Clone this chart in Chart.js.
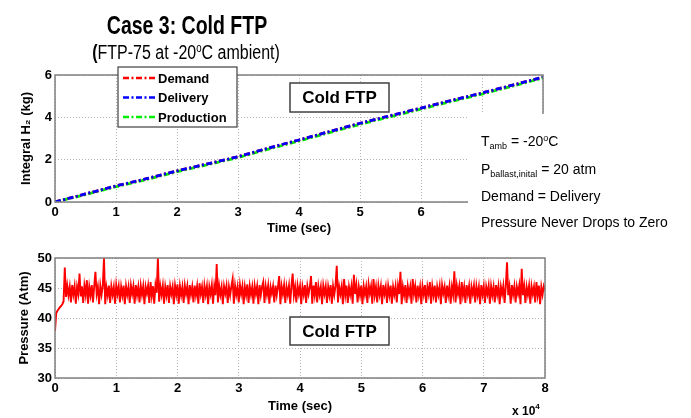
<!DOCTYPE html>
<html><head><meta charset="utf-8">
<script src="https://cdn.jsdelivr.net/npm/chart.js@4.4.1/dist/chart.umd.min.js"></script>
<style>
html,body{margin:0;padding:0;background:#fff;width:691px;height:418px;overflow:hidden;font-family:'Liberation Sans',Arial,sans-serif;color:#000;}
canvas{position:absolute;left:0;}
#c1{top:0;}
#c2{top:240px;}
.txt{position:absolute;white-space:nowrap;line-height:1;}
.title{font-weight:bold;font-size:25px;left:187px;top:13px;transform:translateX(-50%) scaleX(0.78);}
.sub{font-size:20px;left:186px;top:42px;transform:translateX(-50%) scaleX(0.8);}
.sub sup{font-size:12px;vertical-align:7px;}
.note{font-size:14px;left:481px;}
.note sub{font-size:9px;vertical-align:-3px;}
.note sup{font-size:9px;vertical-align:5px;}
.x10{font-size:12px;font-weight:bold;left:512px;top:403px;}
.x10 sup{font-size:8px;vertical-align:6px;}
</style></head>
<body>
<canvas id="c1" width="691" height="240"></canvas>
<canvas id="c2" width="691" height="178"></canvas>
<div class="txt title">Case 3: Cold FTP</div>
<div class="txt sub"><b>(</b>FTP-75 at -20<sup>o</sup>C ambient)</div>
<div class="txt note" style="top:134px">T<sub>amb</sub> = -20<sup>o</sup>C</div>
<div class="txt note" style="top:162px">P<sub>ballast,inital</sub> = 20 atm</div>
<div class="txt note" style="top:189px">Demand = Delivery</div>
<div class="txt note" style="top:215px">Pressure Never Drops to Zero</div>
<div class="txt x10">x 10<sup>4</sup></div>
<script>
// ---- data (time in units of 10^4 sec) ----
const timeTickLabels = ['0','1','2','3','4','5','6','7','8'];
const integralTime = [0,0.5,1,1.5,2,2.5,3,3.5,4,4.5,5,5.5,6,6.5,7,7.5,8];
const demandKg     = [0,0.38,0.76,1.1,1.47,1.8,2.14,2.55,2.93,3.33,3.72,4.08,4.44,4.8,5.15,5.52,5.9];
const deliveryKg   = [0,0.38,0.76,1.1,1.47,1.8,2.14,2.55,2.93,3.33,3.72,4.08,4.44,4.8,5.15,5.52,5.9];
const productionKg = [0,0.35,0.72,1.06,1.43,1.76,2.1,2.5,2.88,3.28,3.67,4.03,4.39,4.75,5.1,5.47,5.86];
const h2Ticks = ['0','2','4','6'];
const pressureTicks = ['30','35','40','45','50'];
const pressureEnd = 8; // last sample time, 10^4 sec (samples evenly spaced from 0)
const pressureAtm = [
37.8,40.8,41.2,41.5,41.8,42.0,42.3,42.8,48.4,43.5,45.4,43.8,45.2,42.6,45.5,43.9,45.3,42.4,45.2,44.0,
47.4,43.6,45.3,42.5,45.4,43.9,46.3,42.4,45.2,43.8,45.5,42.6,45.3,47.7,44.0,45.2,42.3,45.4,43.9,45.3,
50.0,42.3,45.1,43.8,45.4,42.5,45.3,43.9,45.2,42.4,45.5,44.0,45.3,42.6,45.2,43.8,45.4,42.3,45.3,43.9,
45.2,42.5,45.4,44.0,45.3,42.4,45.5,43.8,45.2,42.6,45.4,43.9,45.3,42.3,45.2,44.1,45.4,42.5,46.0,43.7,
45.3,42.4,45.5,44.2,50.0,42.7,45.3,43.9,45.4,42.4,45.2,43.8,45.5,42.5,45.3,44.0,45.2,42.3,45.4,43.9,
45.6,42.4,45.3,43.8,45.2,42.5,45.4,44.0,45.3,42.3,45.5,43.9,45.2,42.6,45.4,43.8,45.3,42.4,45.8,44.0,
45.2,42.5,45.4,43.9,45.3,42.3,45.2,44.0,45.5,42.4,45.3,43.8,49.0,42.6,45.4,43.9,45.2,42.3,45.3,44.1,
45.4,42.5,45.2,43.8,45.3,46.5,42.4,45.4,43.9,45.2,42.6,45.5,44.0,45.3,42.3,45.2,43.8,45.6,42.5,45.3,
43.9,45.2,42.4,45.4,44.0,45.3,42.3,45.5,43.8,45.2,46.0,42.5,45.3,43.9,45.4,42.4,45.2,44.1,45.3,42.6,
45.4,43.8,45.2,47.0,42.3,45.3,44.0,45.5,42.5,45.2,43.9,45.4,42.4,45.3,47.4,43.8,45.2,42.6,45.4,44.0,
45.3,42.3,45.2,43.9,45.5,42.5,45.3,44.0,45.2,47.0,42.4,45.4,43.8,46.0,42.6,45.3,43.9,45.2,42.3,45.4,
44.0,45.3,42.5,45.2,43.8,45.5,42.4,45.3,43.9,45.4,48.7,42.6,45.2,44.0,45.3,42.3,46.5,43.8,45.4,42.5,
45.2,43.9,45.3,42.4,47.2,44.0,45.5,42.6,45.2,43.8,45.4,42.3,45.3,43.9,45.2,42.5,45.6,44.1,45.3,42.4,
46.5,43.8,45.2,42.6,45.4,43.9,45.3,42.3,45.5,44.0,45.2,42.5,45.3,43.8,45.4,42.4,45.2,43.9,45.3,42.6,
45.4,44.0,47.7,42.3,45.2,43.8,45.5,42.5,45.3,43.9,45.2,42.4,46.5,44.0,45.3,42.6,45.4,43.8,45.2,42.3,
45.3,43.9,45.5,42.5,45.2,44.0,46.0,42.4,45.3,43.8,45.4,42.6,45.2,43.9,45.3,42.3,45.5,44.1,45.2,42.5,
45.4,43.8,45.3,42.4,45.2,43.9,47.8,42.6,45.4,44.0,45.3,42.3,46.0,43.8,45.2,42.5,45.5,43.9,45.3,42.4,
45.2,44.0,45.4,42.6,45.3,43.8,45.2,42.3,45.5,43.9,45.3,42.5,45.2,44.0,45.4,42.4,45.3,43.8,45.2,42.6,
45.5,43.9,45.3,42.3,45.2,44.0,45.4,42.5,45.3,49.3,43.8,45.2,42.4,45.5,43.9,45.3,42.6,45.2,44.0,45.4,
42.3,48.2,43.8,45.3,42.5,45.2,43.9,45.4,42.4,45.3,44.0,45.2,42.6,46.0,43.8,45.4,42.3,45.2,43.9,45.3,
44.6];

const FONT = "'Liberation Sans', Arial, sans-serif";
const tickFont = {family: FONT, size: 13, weight: 'bold'};
const titleFont = {family: FONT, size: 13, weight: 'bold'};
const gridOpts = {color: '#b4b4b4', lineWidth: 1, drawTicks: false};
const borderOpts = {display: false, dash: [1, 2]};

function pts(xs, ys) { return xs.map((x, i) => ({x: x, y: ys[i]})); }

function drawFrame(chart) {
  const {ctx, chartArea: a} = chart;
  ctx.save();
  ctx.strokeStyle = '#808080';
  ctx.lineWidth = 1.5;
  ctx.setLineDash([]);
  ctx.strokeRect(a.left, a.top, a.right - a.left, a.bottom - a.top);
  ctx.restore();
}
function drawLabelBox(ctx, x, y, w, h, text) {
  ctx.save();
  ctx.fillStyle = '#fff';
  ctx.fillRect(x, y, w, h);
  ctx.strokeStyle = '#404040';
  ctx.lineWidth = 1.5;
  ctx.setLineDash([]);
  ctx.strokeRect(x, y, w, h);
  ctx.fillStyle = '#000';
  ctx.font = 'bold 17px ' + FONT;
  ctx.textAlign = 'center';
  ctx.textBaseline = 'middle';
  ctx.fillText(text, x + w / 2, y + h / 2 + 1);
  ctx.restore();
}

const topOverlay = {
  id: 'topOverlay',
  afterDraw(chart) {
    const ctx = chart.ctx;
    drawFrame(chart);
    // white annotation area covering the lower right of the plot
    ctx.save();
    ctx.fillStyle = '#fff';
    ctx.fillRect(468, 114, 691 - 468, 240 - 114);
    ctx.restore();
    drawLabelBox(ctx, 290, 83, 99, 29, 'Cold FTP');
    // legend
    const lx = 118, ly = 67, lw = 119, lh = 60;
    ctx.save();
    ctx.fillStyle = '#fff';
    ctx.fillRect(lx, ly, lw, lh);
    ctx.strokeStyle = '#404040';
    ctx.lineWidth = 1.2;
    ctx.strokeRect(lx, ly, lw, lh);
    [0, 1, 2].forEach((di, row) => {
      const ds = chart.data.datasets[di];
      const y = ly + 11 + row * 19.5;
      ctx.strokeStyle = ds.borderColor;
      ctx.lineWidth = 2.5;
      ctx.setLineDash([6, 2.5, 2, 2.5]);
      ctx.beginPath();
      ctx.moveTo(lx + 5, y);
      ctx.lineTo(lx + 38, y);
      ctx.stroke();
      ctx.setLineDash([]);
      ctx.fillStyle = '#000';
      ctx.font = 'bold 13px ' + FONT;
      ctx.textAlign = 'left';
      ctx.textBaseline = 'middle';
      ctx.fillText(ds.label, lx + 40, y + 1);
    });
    ctx.restore();
  }
};
const bottomOverlay = {
  id: 'bottomOverlay',
  afterDraw(chart) {
    drawFrame(chart);
    drawLabelBox(chart.ctx, 290, 77, 99, 28, 'Cold FTP');
  }
};

new Chart(document.getElementById('c1'), {
  type: 'line',
  data: {
    datasets: [
      {label: 'Demand', data: pts(integralTime, demandKg), borderColor: '#ff0000', borderWidth: 2.8,
       borderDash: [6, 2.5, 2, 2.5], pointRadius: 0, order: 1},
      {label: 'Delivery', data: pts(integralTime, deliveryKg), borderColor: '#0000ff', borderWidth: 2.8,
       borderDash: [6, 2.5, 2, 2.5], pointRadius: 0, order: 0},
      {label: 'Production', data: pts(integralTime, productionKg), borderColor: '#00ee00', borderWidth: 2.8,
       borderDash: [6, 2.5, 2, 2.5], borderDashOffset: 5, pointRadius: 0, order: 2}
    ]
  },
  options: {
    responsive: false, animation: false, devicePixelRatio: 1,
    layout: {padding: {left: 0, top: 75, right: 148, bottom: 0}},
    plugins: {legend: {display: false}, tooltip: {enabled: false}},
    scales: {
      x: {type: 'linear', min: 0, max: 8,
        ticks: {stepSize: 1, autoSkip: false, maxRotation: 0, color: '#000', font: tickFont, padding: 3,
          callback: (v) => timeTickLabels[Math.round(v)]},
        grid: gridOpts, border: borderOpts,
        title: {display: true, text: 'Time (sec)', color: '#000', font: titleFont, padding: {top: 0, bottom: 4}},
        afterFit(s) { s.height = 38; }},
      y: {min: 0, max: 6,
        ticks: {stepSize: 2, color: '#000', font: tickFont, padding: 3,
          callback: (v) => h2Ticks[Math.round(v / 2)]},
        grid: gridOpts, border: borderOpts,
        title: {display: true, text: 'Integral H\u2082 (kg)', color: '#000', font: titleFont, padding: {top: 19, bottom: 0}},
        afterFit(s) { s.width = 55; }}
    }
  },
  plugins: [topOverlay]
});

const pressureStep = pressureEnd / (pressureAtm.length - 1);
const pressurePts = pressureAtm.map((p, i) => ({x: i * pressureStep, y: p}));
new Chart(document.getElementById('c2'), {
  type: 'line',
  data: {
    datasets: [
      {label: 'Pressure', data: pressurePts, borderColor: '#ff0000', borderWidth: 1.9, pointRadius: 0, tension: 0}
    ]
  },
  options: {
    responsive: false, animation: false, devicePixelRatio: 1,
    layout: {padding: {left: 0, top: 18, right: 146, bottom: 0}},
    plugins: {legend: {display: false}, tooltip: {enabled: false}},
    scales: {
      x: {type: 'linear', min: 0, max: 8,
        ticks: {stepSize: 1, autoSkip: false, maxRotation: 0, color: '#000', font: tickFont, padding: 3,
          callback: (v) => timeTickLabels[Math.round(v)]},
        grid: gridOpts, border: borderOpts,
        title: {display: true, text: 'Time (sec)', color: '#000', font: titleFont, padding: {top: 0, bottom: 4}},
        afterFit(s) { s.height = 40; }},
      y: {min: 30, max: 50,
        ticks: {stepSize: 5, color: '#000', font: tickFont, padding: 3,
          callback: (v) => pressureTicks[Math.round((v - 30) / 5)]},
        grid: gridOpts, border: borderOpts,
        title: {display: true, text: 'Pressure (Atm)', color: '#000', font: titleFont, padding: {top: 17, bottom: 0}},
        afterFit(s) { s.width = 55; }}
    }
  },
  plugins: [bottomOverlay]
});
</script>
</body></html>
